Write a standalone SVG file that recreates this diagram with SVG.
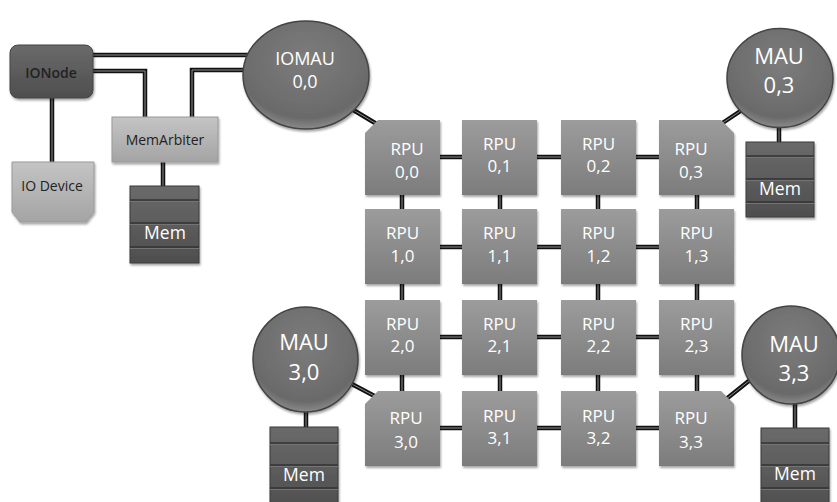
<svg xmlns="http://www.w3.org/2000/svg" width="837" height="502" viewBox="0 0 837 502">
<defs>
<linearGradient id="gRpu" x1="0" y1="0" x2="0" y2="1">
<stop offset="0" stop-color="#9c9c9c"/><stop offset="1" stop-color="#7c7c7c"/>
</linearGradient>
<linearGradient id="gLight" x1="0" y1="0" x2="0" y2="1">
<stop offset="0" stop-color="#c4c4c4"/><stop offset="1" stop-color="#a4a4a4"/>
</linearGradient>
<linearGradient id="gDark" x1="0" y1="0" x2="0" y2="1">
<stop offset="0" stop-color="#6a6a6a"/><stop offset="1" stop-color="#4e4e4e"/>
</linearGradient>
<radialGradient id="gCirc" cx="0.5" cy="0.35" r="0.65">
<stop offset="0" stop-color="#7c7c7c"/><stop offset="0.85" stop-color="#6a6a6a"/><stop offset="1" stop-color="#8a8a8a"/>
</radialGradient>
<filter id="sh" x="-10%" y="-10%" width="130%" height="130%">
<feDropShadow dx="1" dy="2" stdDeviation="1.2" flood-color="#000" flood-opacity="0.35"/>
</filter>
</defs>
<style>
.wire{fill:none;stroke:#111;stroke-width:4.5}
.hl{fill:none;stroke:#8c8c8c;stroke-width:1}
.rpu{fill:url(#gRpu);filter:url(#sh)}
.circ{fill:url(#gCirc);stroke:#444;stroke-width:1.5;filter:url(#sh)}
.mem{fill:url(#gDark);stroke:#3a3a3a;stroke-width:1;filter:url(#sh)}
.stripe{stroke:#333;stroke-width:1.5}
.stripehl{stroke:#747474;stroke-width:1}
.tw{font-family:"Open Sans","Noto Sans",sans-serif;fill:#fff;text-anchor:middle}
.tk{font-family:"Open Sans","Noto Sans",sans-serif;fill:#222;text-anchor:middle;font-size:14px}
.r{font-size:17px}
.m{font-size:22px}
.mm{font-size:17.5px}
</style>
<rect width="837" height="502" fill="#fff"/>

<g id="connectors">
<path class="wire" d="M93,55 H250 M93,71 H145 V117 M250,70 H192 V117 M52,98 V162 M163,162 V186 M350,108 L380,126 M745,108 L718,126 M779,125 V142 M348,382 L382,400 M306,410 V427 M750,380 L725,400 M795,403 V428 M402,157 H697 M402,247 H697 M402,337 H697 M402,428 H697 M402,157 V428 M500,157 V428 M598,157 V428 M697,157 V428"/>
<path class="hl" d="M93,55 H250 M93,71 H145 V117 M250,70 H192 V117 M52,98 V162 M163,162 V186 M350,108 L380,126 M745,108 L718,126 M779,125 V142 M348,382 L382,400 M306,410 V427 M750,380 L725,400 M795,403 V428 M402,157 H697 M402,247 H697 M402,337 H697 M402,428 H697 M402,157 V428 M500,157 V428 M598,157 V428 M697,157 V428"/>
</g>

<g id="ionode">
<rect x="10" y="45" width="83" height="53" rx="8" fill="url(#gDark)" stroke="#444" filter="url(#sh)"/>
<text class="tk" x="51" y="78" font-weight="600">IONode</text>
</g>
<g id="iodevice">
<path d="M12,162 H94 V212 L86,222 H20 L12,212 Z" fill="url(#gLight)" stroke="#999" filter="url(#sh)"/>
<text class="tk" x="52" y="191">IO Device</text>
</g>
<g id="memarbiter">
<rect x="112" y="117" width="106" height="45" fill="url(#gLight)" stroke="#999" filter="url(#sh)"/>
<text class="tk" x="165" y="145">MemArbiter</text>
</g>
<g id="mem-arb">
<rect class="mem" x="130" y="186" width="69" height="77"/>
<path class="stripe" d="M130,200 H199 M130,223 H199 M130,247 H199"/>
<path class="stripehl" d="M130,201.5 H199 M130,224.5 H199 M130,248.5 H199"/>
<text class="tw mm" x="165" y="239">Mem</text>
</g>

<g id="iomau">
<ellipse class="circ" cx="306" cy="75" rx="63" ry="54"/>
<text class="tw" font-size="18" x="305" y="64.5">IOMAU</text>
<text class="tw" font-size="18" x="305" y="88">0,0</text>
</g>
<g id="mau03">
<ellipse class="circ" cx="780" cy="78" rx="53" ry="49.5"/>
<text class="tw m" x="779" y="64">MAU</text>
<text class="tw m" x="779" y="93">0,3</text>
</g>
<g id="mem03">
<rect class="mem" x="746" y="142" width="68" height="75"/>
<path class="stripe" d="M746,156 H814 M746,179 H814 M746,202 H814"/>
<path class="stripehl" d="M746,157.5 H814 M746,180.5 H814 M746,203.5 H814"/>
<text class="tw mm" x="780" y="195">Mem</text>
</g>
<g id="mau30">
<circle class="circ" cx="305.5" cy="359.5" r="52.5"/>
<text class="tw m" x="304" y="350">MAU</text>
<text class="tw m" x="304" y="380">3,0</text>
</g>
<g id="mem30">
<rect class="mem" x="270" y="427" width="68" height="82"/>
<path class="stripe" d="M270,443 H338 M270,465 H338 M270,488 H338"/>
<path class="stripehl" d="M270,444.5 H338 M270,466.5 H338 M270,489.5 H338"/>
<text class="tw mm" x="304" y="481">Mem</text>
</g>
<g id="mau33">
<circle class="circ" cx="791" cy="355" r="49"/>
<text class="tw m" x="794" y="352">MAU</text>
<text class="tw m" x="794" y="381">3,3</text>
</g>
<g id="mem33">
<rect class="mem" x="761" y="428" width="68" height="82"/>
<path class="stripe" d="M761,443 H829 M761,465 H829 M761,488 H829"/>
<path class="stripehl" d="M761,444.5 H829 M761,466.5 H829 M761,489.5 H829"/>
<text class="tw mm" x="795" y="480">Mem</text>
</g>

<g id="rpu00"><path class="rpu" d="M365,133 L378,120 H440 V195 H365 Z"/><text class="tw r" x="407" y="155">RPU</text><text class="tw r" x="407" y="178">0,0</text></g>
<g id="rpu01"><rect class="rpu" x="462" y="120" width="75" height="75"/><text class="tw r" x="499.5" y="150">RPU</text><text class="tw r" x="499.5" y="172">0,1</text></g>
<g id="rpu02"><rect class="rpu" x="561" y="120" width="75" height="75"/><text class="tw r" x="598.5" y="150">RPU</text><text class="tw r" x="598.5" y="172">0,2</text></g>
<g id="rpu03"><path class="rpu" d="M659,120 H721 L734,133 V195 H659 Z"/><text class="tw r" x="691" y="155">RPU</text><text class="tw r" x="691" y="178">0,3</text></g>

<g id="rpu10"><rect class="rpu" x="365" y="209" width="75" height="75"/><text class="tw r" x="402.5" y="239">RPU</text><text class="tw r" x="402.5" y="262">1,0</text></g>
<g id="rpu11"><rect class="rpu" x="462" y="209" width="75" height="75"/><text class="tw r" x="499.5" y="239">RPU</text><text class="tw r" x="499.5" y="262">1,1</text></g>
<g id="rpu12"><rect class="rpu" x="561" y="209" width="75" height="75"/><text class="tw r" x="598.5" y="239">RPU</text><text class="tw r" x="598.5" y="262">1,2</text></g>
<g id="rpu13"><rect class="rpu" x="659" y="209" width="75" height="75"/><text class="tw r" x="696.5" y="239">RPU</text><text class="tw r" x="696.5" y="262">1,3</text></g>

<g id="rpu20"><rect class="rpu" x="365" y="300" width="75" height="75"/><text class="tw r" x="402.5" y="330">RPU</text><text class="tw r" x="402.5" y="352">2,0</text></g>
<g id="rpu21"><rect class="rpu" x="462" y="300" width="75" height="75"/><text class="tw r" x="499.5" y="330">RPU</text><text class="tw r" x="499.5" y="352">2,1</text></g>
<g id="rpu22"><rect class="rpu" x="561" y="300" width="75" height="75"/><text class="tw r" x="598.5" y="330">RPU</text><text class="tw r" x="598.5" y="352">2,2</text></g>
<g id="rpu23"><rect class="rpu" x="659" y="300" width="75" height="75"/><text class="tw r" x="696.5" y="330">RPU</text><text class="tw r" x="696.5" y="352">2,3</text></g>

<g id="rpu30"><path class="rpu" d="M365,404 L378,391 H440 V466 H365 Z"/><text class="tw r" x="406" y="424">RPU</text><text class="tw r" x="406" y="448">3,0</text></g>
<g id="rpu31"><rect class="rpu" x="462" y="391" width="75" height="75"/><text class="tw r" x="499.5" y="422">RPU</text><text class="tw r" x="499.5" y="444">3,1</text></g>
<g id="rpu32"><rect class="rpu" x="561" y="391" width="75" height="75"/><text class="tw r" x="598.5" y="422">RPU</text><text class="tw r" x="598.5" y="444">3,2</text></g>
<g id="rpu33"><path class="rpu" d="M659,391 H721 L734,404 V466 H659 Z"/><text class="tw r" x="691" y="424">RPU</text><text class="tw r" x="691" y="448">3,3</text></g>
</svg>
